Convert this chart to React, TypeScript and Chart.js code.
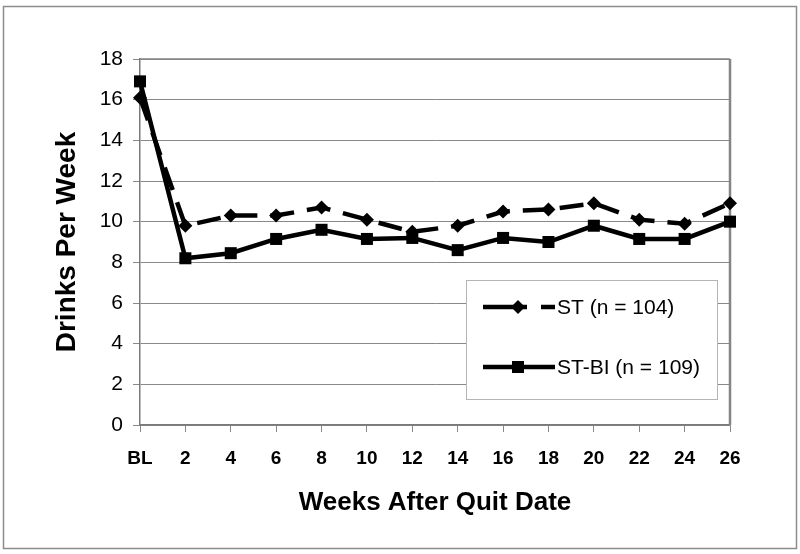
import React, { useEffect, useRef } from "react";
import { Chart, registerables } from "chart.js";

Chart.register(...registerables);

const categories = ["BL", "2", "4", "6", "8", "10", "12", "14", "16", "18", "20", "22", "24", "26"];
const stValues = [16.1, 9.8, 10.3, 10.3, 10.7, 10.1, 9.5, 9.8, 10.5, 10.6, 10.9, 10.1, 9.9, 10.9];
const stbiValues = [16.9, 8.2, 8.45, 9.15, 9.6, 9.15, 9.2, 8.6, 9.2, 9.0, 9.8, 9.15, 9.15, 10.0];
const seriesLabels = ["ST (n = 104)", "ST-BI (n = 109)"];
const yMin = 0;
const yMax = 18;
const yStep = 2;
const xTitle = "Weeks After Quit Date";
const yTitle = "Drinks Per Week";

const FONT = "'Liberation Sans', Arial, Helvetica, sans-serif";
const ST_DASH = [24, 13];

const framePlugin = {
  id: "frame",
  beforeDraw(chart: any) {
    const ctx = chart.ctx;
    ctx.save();
    ctx.fillStyle = "#ffffff";
    ctx.fillRect(0, 0, chart.width, chart.height);
    ctx.strokeStyle = "#8c8c8c";
    ctx.lineWidth = 1.5;
    ctx.strokeRect(3.5, 6.5, 793, 542);
    ctx.restore();
  },
  beforeDatasetsDraw(chart: any) {
    const ctx = chart.ctx;
    const a = chart.chartArea;
    ctx.save();
    ctx.strokeStyle = "#858585";
    ctx.lineWidth = 1.5;
    ctx.beginPath();
    ctx.moveTo(a.left, a.top);
    ctx.lineTo(a.right, a.top);
    ctx.stroke();
    ctx.lineWidth = 2.5;
    ctx.beginPath();
    ctx.moveTo(a.right, a.top);
    ctx.lineTo(a.right, a.bottom);
    ctx.stroke();
    ctx.restore();
  },
};

function drawMarker(ctx: CanvasRenderingContext2D, style: string, x: number, y: number, r: number) {
  ctx.beginPath();
  if (style === "rectRot") {
    ctx.moveTo(x, y - r);
    ctx.lineTo(x + r, y);
    ctx.lineTo(x, y + r);
    ctx.lineTo(x - r, y);
    ctx.closePath();
  } else {
    const s = r * Math.SQRT1_2;
    ctx.rect(x - s, y - s, 2 * s, 2 * s);
  }
  ctx.fill();
}

const legendPlugin = {
  id: "boxLegend",
  afterDatasetsDraw(chart: any) {
    const ctx = chart.ctx;
    ctx.save();
    const bx = 466, by = 280, bw = 251, bh = 119;
    ctx.fillStyle = "#ffffff";
    ctx.fillRect(bx, by, bw, bh);
    ctx.strokeStyle = "#b5b5b5";
    ctx.lineWidth = 1;
    ctx.strokeRect(bx + 0.5, by + 0.5, bw, bh);
    const rows = [307, 367];
    chart.data.datasets.forEach((ds: any, i: number) => {
      const y = rows[i];
      ctx.strokeStyle = "#000";
      ctx.fillStyle = "#000";
      ctx.lineWidth = ds.borderWidth;
      ctx.setLineDash(ds.borderDash && ds.borderDash.length ? [44, 14] : []);
      ctx.beginPath();
      ctx.moveTo(483, y);
      ctx.lineTo(555, y);
      ctx.stroke();
      ctx.setLineDash([]);
      drawMarker(ctx, ds.pointStyle, 518, y, ds.pointRadius);
      ctx.font = `21px ${FONT}`;
      ctx.textBaseline = "middle";
      ctx.textAlign = "left";
      ctx.fillText(ds.label, 557, y + 1);
    });
    ctx.restore();
  },
};

export default function App() {
  const ref = useRef<HTMLCanvasElement | null>(null);

  useEffect(() => {
    if (!ref.current) return;
    const chart = new Chart(ref.current, {
      type: "line",
      data: {
        labels: categories,
        datasets: [
          {
            label: seriesLabels[0],
            data: stValues,
            borderColor: "#000",
            backgroundColor: "#000",
            borderWidth: 4.5,
            borderDash: ST_DASH,
            pointStyle: "rectRot",
            pointRadius: 7,
            pointBorderWidth: 0,
            pointBackgroundColor: "#000",
            tension: 0,
            clip: false as any,
          },
          {
            label: seriesLabels[1],
            data: stbiValues,
            borderColor: "#000",
            backgroundColor: "#000",
            borderWidth: 4.5,
            pointStyle: "rect",
            pointRadius: 8.5,
            pointBorderWidth: 0,
            pointBackgroundColor: "#000",
            tension: 0,
            clip: false as any,
          },
        ],
      },
      options: {
        animation: false,
        responsive: false,
        maintainAspectRatio: false,
        layout: { padding: { left: 0, top: 59, right: 70, bottom: 0 } },
        plugins: {
          legend: { display: false },
          tooltip: { enabled: false },
        },
        scales: {
          x: {
            type: "category",
            offset: false,
            grid: {
              display: true,
              drawOnChartArea: false,
              drawTicks: true,
              tickLength: 7,
              tickColor: "#888",
              lineWidth: 1,
            },
            border: { display: true, color: "#7a7a7a", width: 1.5 },
            ticks: {
              autoSkip: false,
              maxRotation: 0,
              padding: 15,
              color: "#000",
              font: { family: FONT, size: 19, weight: "bold" },
            },
            title: {
              display: true,
              text: xTitle,
              color: "#000",
              font: { family: FONT, size: 26, weight: "bold" },
              padding: { top: 0, bottom: 36 },
            },
            afterFit(scale: any) {
              scale.height = 129;
            },
          },
          y: {
            min: yMin,
            max: yMax,
            grid: {
              color: "#888",
              lineWidth: 1,
              tickLength: 7,
              tickColor: "#888",
            },
            border: { display: true, color: "#7a7a7a", width: 1.5 },
            ticks: {
              stepSize: yStep,
              padding: 10,
              color: "#000",
              font: { family: FONT, size: 21 },
            },
            title: {
              display: true,
              text: yTitle,
              color: "#000",
              font: { family: FONT, size: 28, weight: "bold" },
              padding: { top: 50, bottom: 0 },
            },
            afterFit(scale: any) {
              scale.width = 140;
            },
          },
        },
      },
      plugins: [framePlugin, legendPlugin],
    });
    return () => chart.destroy();
  }, []);

  return (
    <div style={{ position: "fixed", left: 0, top: 0, width: 800, height: 554, background: "#fff" }}>
      <canvas ref={ref} width={800} height={554} style={{ display: "block", width: 800, height: 554 }} />
    </div>
  );
}
